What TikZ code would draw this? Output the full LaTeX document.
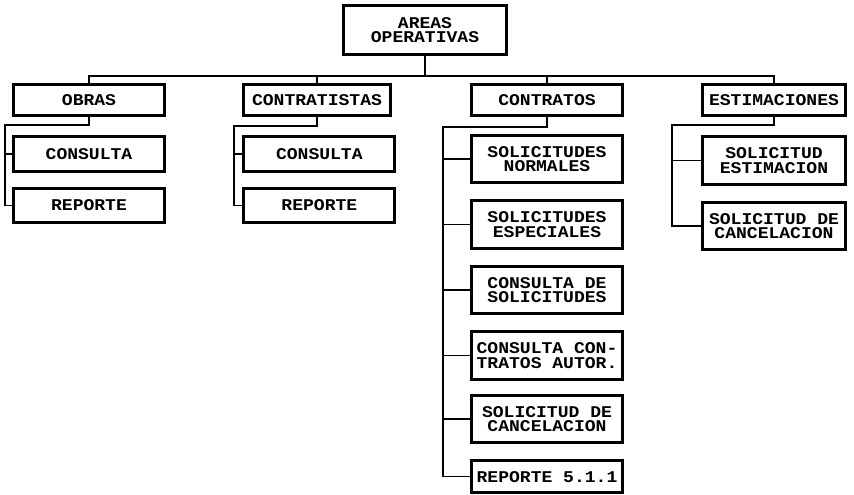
\documentclass[tikz,border=0pt]{standalone}
\usepackage{fontspec}
\newfontfamily\plotter[FakeStretch=1.1]{Liberation Mono}
\usetikzlibrary{positioning}
\tikzset{
  area/.style={
    rectangle, draw=black, line width=2.6pt, fill=white,
    minimum width=4.53cm, minimum height=0.95cm, inner sep=1pt,
    text centered, align=center,
    font=\plotter\bfseries\fontsize{14}{12.5}\selectfont
  },
  item/.style={area, minimum height=1.03cm},
  itemtwo/.style={area, minimum height=1.42cm},
  narrow/.style={minimum width=4.27cm},
  link/.style={line width=1.3pt, draw=black},
}
\begin{document}
\begin{tikzpicture}[x=0.03cm, y=-0.03cm]
\useasboundingbox (0,0) rectangle (854,494);

% --- Root ---
\node[area, minimum width=4.9cm, minimum height=1.45cm] (root) at (425,30) {AREAS\\OPERATIVAS};

% --- Operative areas ---
\node[area] (obras) at (89,100) {OBRAS};
\node[area, minimum width=4.42cm] (contratistas) at (317,100) {CONTRATISTAS};
\node[area] (contratos) at (547,100) {CONTRATOS};
\node[area, narrow] (estimaciones) at (774,100) {ESTIMACIONES};

% --- Obras options ---
\node[item, below=0.54cm of obras] (obrascons) {CONSULTA};
\node[item, below=0.42cm of obrascons] (obrasrep) {REPORTE};

% --- Contratistas options ---
\node[item, below=0.54cm of contratistas, xshift=2pt] (contcons) {CONSULTA};
\node[item, below=0.42cm of contcons] (contrep) {REPORTE};

% --- Contratos options ---
\node[itemtwo, below=0.5cm of contratos] (solnorm) {SOLICITUDES\\NORMALES};
\node[itemtwo, below=0.45cm of solnorm] (solesp) {SOLICITUDES\\ESPECIALES};
\node[itemtwo, below=0.45cm of solesp] (conssol) {CONSULTA DE\\SOLICITUDES};
\node[itemtwo, below=0.45cm of conssol] (conscont) {CONSULTA CON-\\TRATOS AUTOR.};
\node[itemtwo, below=0.4cm of conscont] (solcanc) {SOLICITUD DE\\CANCELACION};
\node[area, below=0.45cm of solcanc] (contrrep) {REPORTE 5.1.1};

% --- Estimaciones options ---
\node[itemtwo, narrow, below=0.54cm of estimaciones] (solest) {SOLICITUD\\ESTIMACION};
\node[itemtwo, narrow, below=0.45cm of solest] (estcanc) {SOLICITUD DE\\CANCELACION};

% --- Turning points ---
\coordinate (bus) at (433,76);
\coordinate (obrasturn) at (5,125);
\coordinate (contturn) at (234,126);
\coordinate (contrturn) at (443,127);
\coordinate (estturn) at (672,125);

% --- Top level lines ---
\draw[link] (root.south) -- (root.south |- bus);
\draw[link] (obras.north) -- (obras.north |- bus) -- (estimaciones.north |- bus) -- (estimaciones.north);
\draw[link] (contratistas.north) -- (contratistas.north |- bus);
\draw[link] (contratos.north) -- (contratos.north |- bus);

% --- Option lines ---
\draw[link] (obras.south) |- (obrasturn) |- (obrascons.west);
\draw[link] (obrasturn) |- (obrasrep.west);

\draw[link] (contratistas.south) |- (contturn) |- (contcons.west);
\draw[link] (contturn) |- (contrep.west);

\draw[link] (contratos.south) |- (contrturn) |- (solnorm.west);
\draw[link] (contrturn) |- (solesp.west);
\draw[link] (contrturn) |- (conssol.west);
\draw[link] (contrturn) |- (conscont.west);
\draw[link] (contrturn) |- (solcanc.west);
\draw[link] (contrturn) |- (contrrep.west);

\draw[link] (estimaciones.south) |- (estturn) |- (solest.west);
\draw[link] (estturn) |- (estcanc.west);

\end{tikzpicture}
\end{document}
